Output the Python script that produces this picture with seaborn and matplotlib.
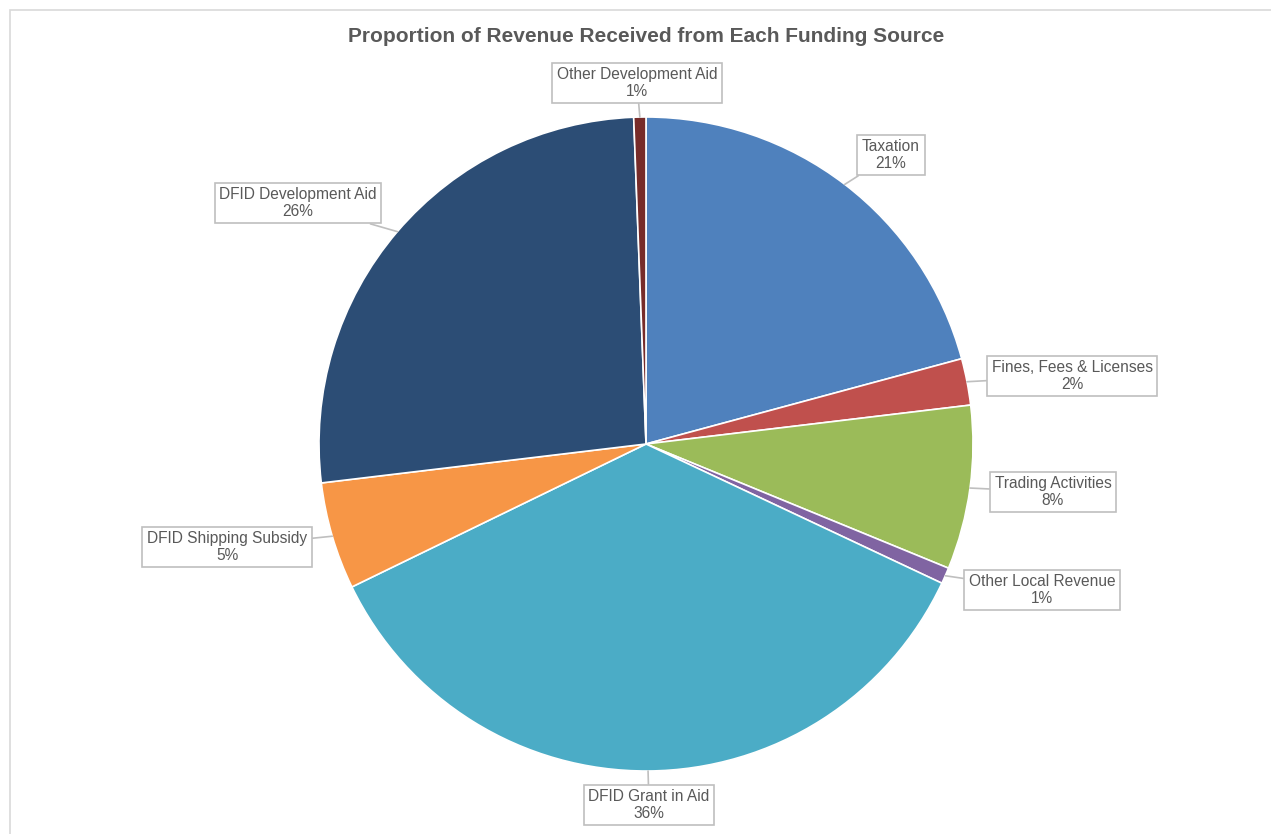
import numpy as np
import matplotlib
matplotlib.use("Agg")
import matplotlib.pyplot as plt
import seaborn as sns
from matplotlib.patches import Rectangle

categories = ["Taxation", "Fines, Fees & Licenses", "Trading Activities", "Other Local Revenue",
              "DFID Grant in Aid", "DFID Shipping Subsidy", "DFID Development Aid", "Other Development Aid"]
values = [20.8, 2.3, 8.1, 0.8, 35.8, 5.3, 26.3, 0.6]
colors = ["#4F81BD", "#C0504D", "#9BBB59", "#8064A2", "#4BACC6", "#F79646", "#2C4D75", "#772C2A"]
# label box centres (pixel layout, image coords)
label_pos = [(891, 155), (1072, 376), (1053, 492), (1042, 590),
             (649, 805), (227, 547), (298, 203), (637, 83)]

sns.set_theme(style="white")
plt.rcParams['font.family'] = ['Liberation Sans', 'DejaVu Sans']

W, H = 1271, 834
fig = plt.figure(figsize=(W / 100, H / 100), dpi=100)
ax = fig.add_axes([0, 0, 1, 1])

cx, cy, R = 646, H - 444, 327
wedges, _ = ax.pie(values, colors=colors, startangle=90, counterclock=False,
                   center=(cx, cy), radius=R, frame=True,
                   wedgeprops=dict(edgecolor="white", linewidth=1.2))
ax.set_xlim(0, W)
ax.set_ylim(0, H)
ax.axis("off")

total = sum(values)
for w, cat, v, (lx, ly) in zip(wedges, categories, values, label_pos):
    ang = np.deg2rad((w.theta1 + w.theta2) / 2)
    ex, ey = cx + R * np.cos(ang), cy + R * np.sin(ang)
    pct = int(round(v / total * 100))
    ax.annotate(f"{cat}\n{pct}%", xy=(ex, ey), xytext=(lx, H - ly),
                ha="center", va="center", fontsize=11.2, color="#595959",
                linespacing=1.1,
                bbox=dict(boxstyle="square,pad=0.3", fc="white", ec="#BFBFBF", lw=1.2),
                arrowprops=dict(arrowstyle="-", color="#BFBFBF", lw=1.2,
                                shrinkA=0, shrinkB=0))

ax.text(646, H - 36, "Proportion of Revenue Received from Each Funding Source",
        ha="center", va="center", fontsize=15, fontweight="bold", color="#595959")

fig.patches.append(Rectangle((10, -20), W + 20, H - 10 + 20, transform=None,
                             fill=False, ec="#D9D9D9", lw=1.2))

fig.savefig("out.png", dpi=100, facecolor="white")
